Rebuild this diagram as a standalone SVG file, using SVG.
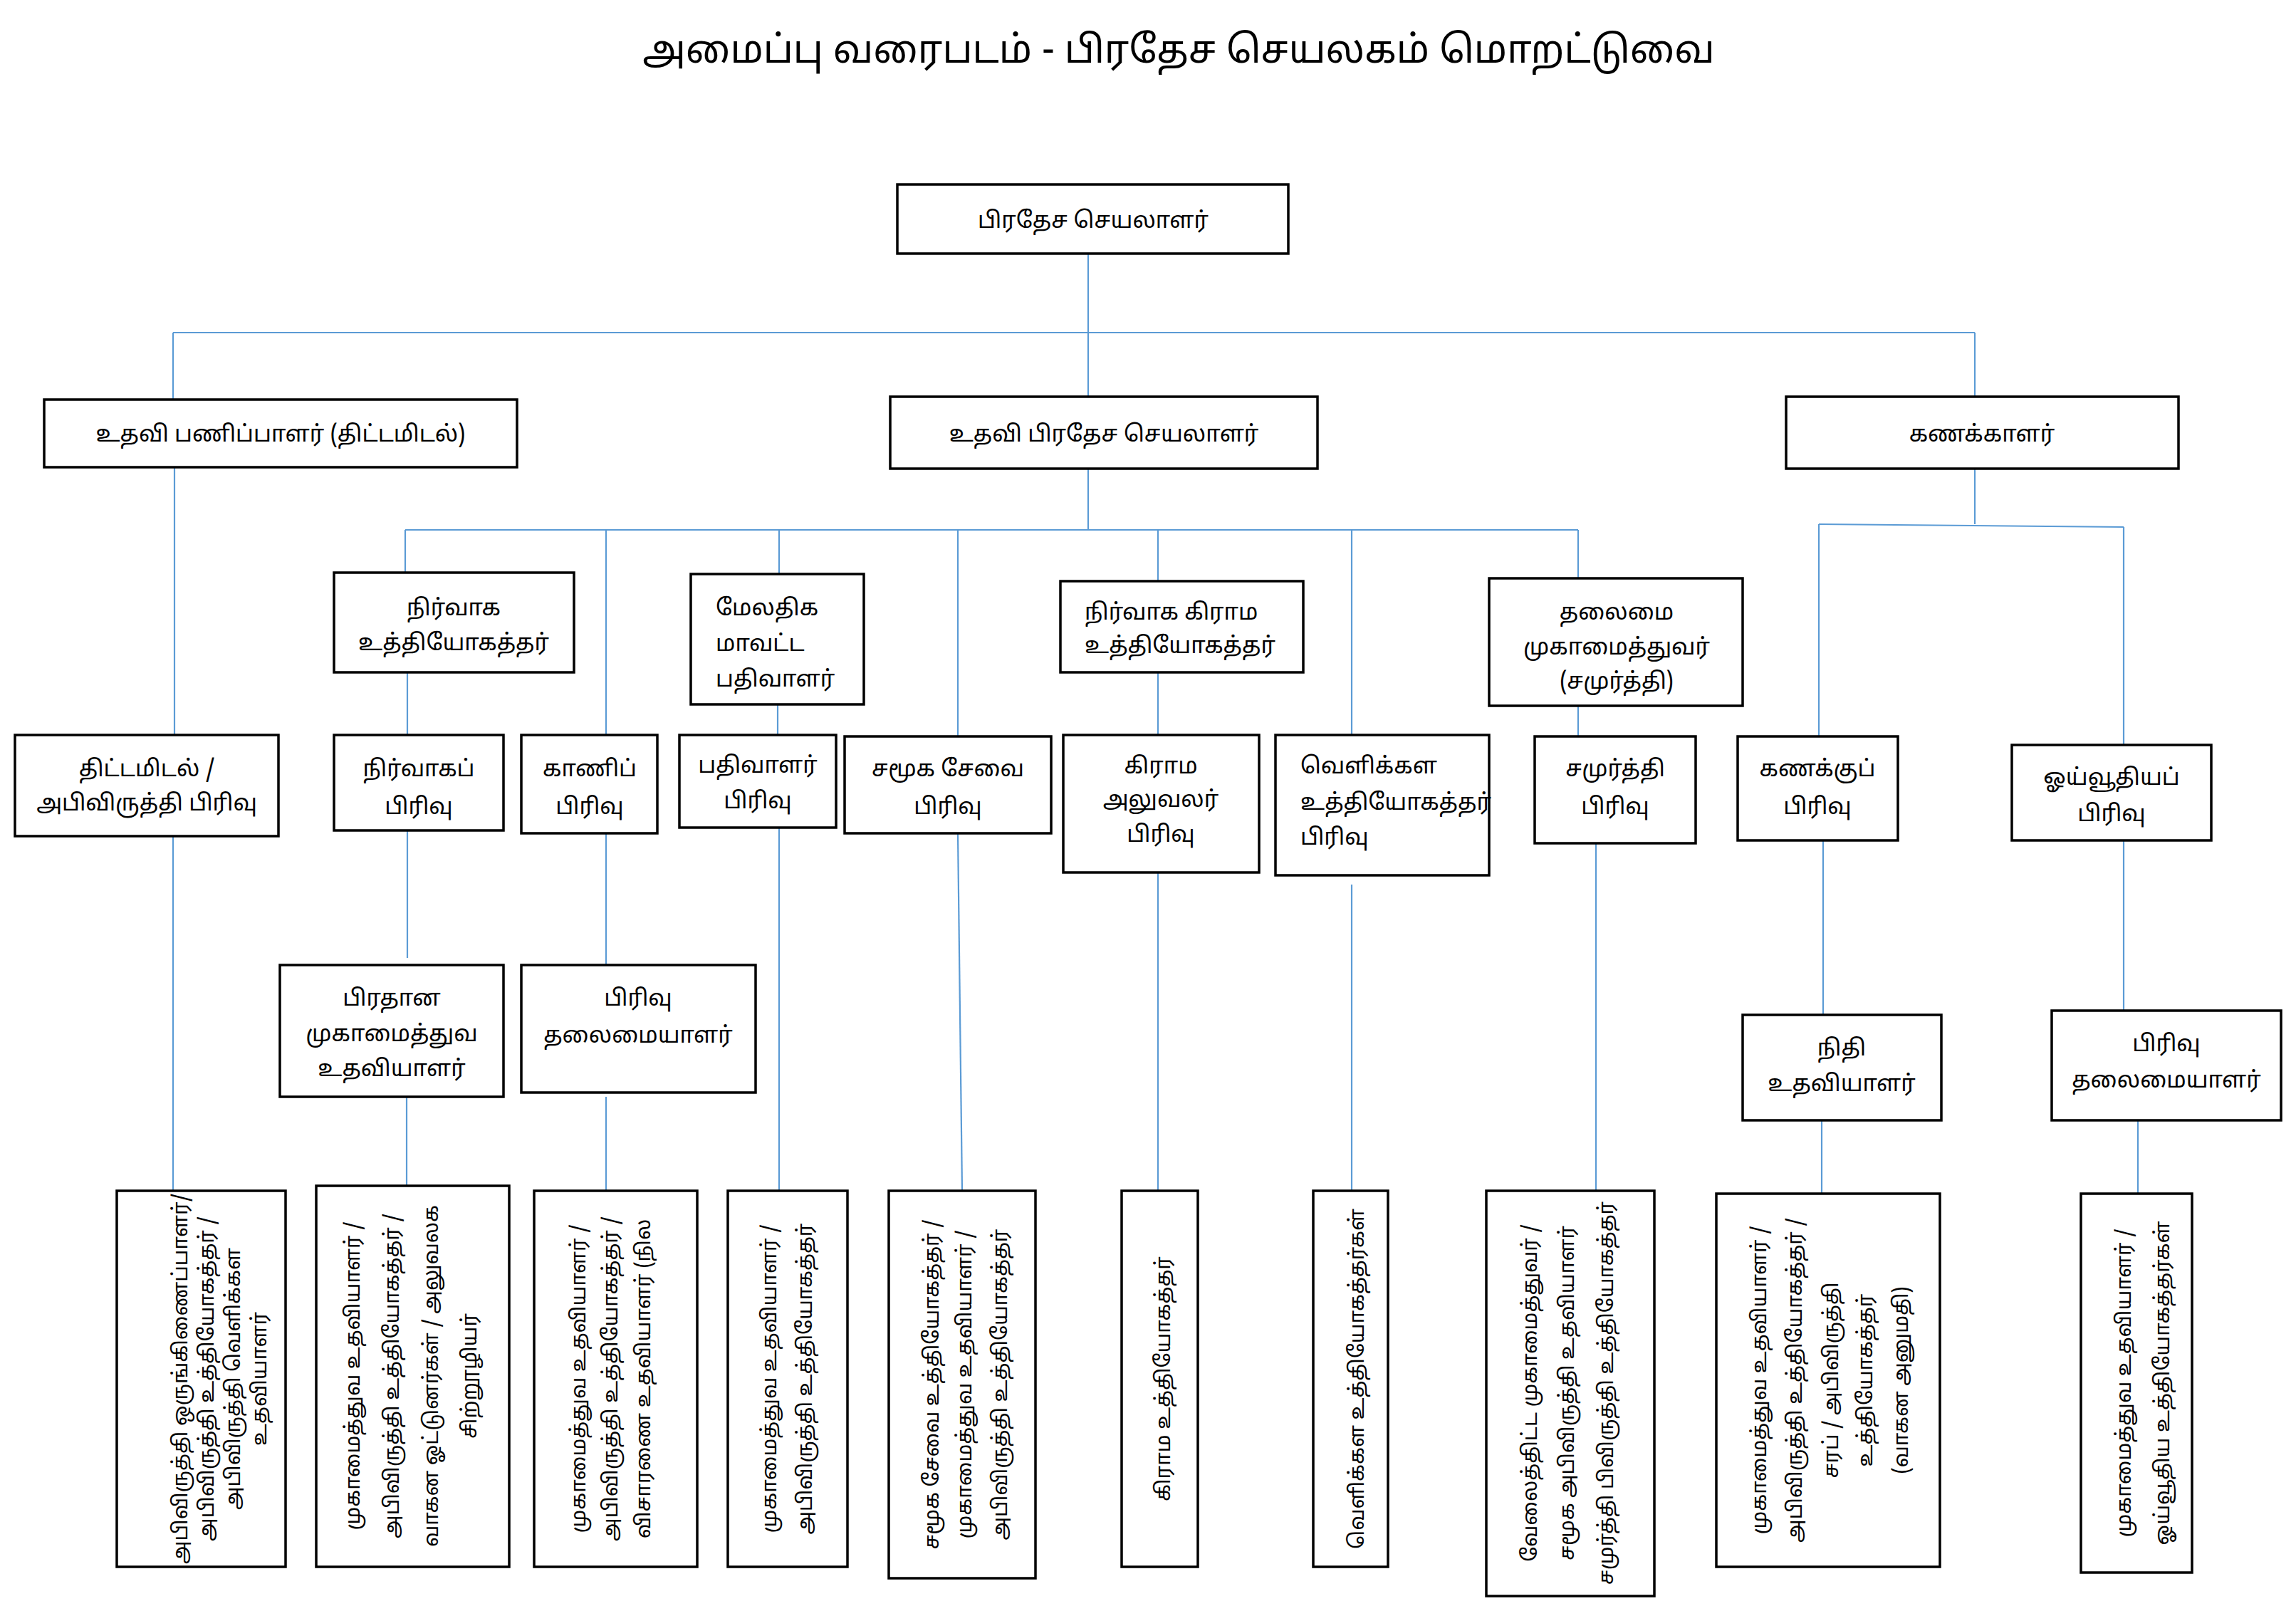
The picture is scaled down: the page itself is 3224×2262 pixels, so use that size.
<svg xmlns="http://www.w3.org/2000/svg" width="3224" height="2262" viewBox="0 0 3224 2262">
<style>
.b{fill:#fff;stroke:#000;stroke-width:3.5}
text{font-family:"Noto Sans Tamil","Latha","Noto Sans",sans-serif;fill:#000}
.t{font-size:32px;text-anchor:middle}
.s{font-size:32px;text-anchor:start}
.v{font-size:29px;text-anchor:middle}
#conn line{stroke:#5b9bd5;stroke-width:2.2}
</style>
<defs>
<clipPath id="c1"><rect x="166" y="1674" width="233" height="524"/></clipPath>
<clipPath id="c3"><rect x="752" y="1674" width="225" height="524"/></clipPath>
</defs>
<rect width="3224" height="2262" fill="#fff"/>
<text x="1655" y="88" style="font-size:54px;text-anchor:middle">அமைப்பு வரைபடம் - பிரதேச செயலகம் மொறட்டுவை</text>
<g id="conn">
<line x1="1528" y1="356" x2="1528" y2="558"/>
<line x1="243" y1="467" x2="2773" y2="467"/>
<line x1="243" y1="467" x2="243" y2="561"/>
<line x1="2773" y1="467" x2="2773" y2="557"/>
<line x1="245" y1="656" x2="245" y2="1032"/>
<line x1="243" y1="1174" x2="243" y2="1672"/>
<line x1="1528" y1="658" x2="1528" y2="744"/>
<line x1="569" y1="744" x2="2216" y2="744"/>
<line x1="569" y1="744" x2="569" y2="804"/>
<line x1="851" y1="744" x2="851" y2="1032"/>
<line x1="1094" y1="744" x2="1094" y2="806"/>
<line x1="1345" y1="744" x2="1345" y2="1034"/>
<line x1="1626" y1="744" x2="1626" y2="816"/>
<line x1="1898" y1="744" x2="1898" y2="1032"/>
<line x1="2216" y1="744" x2="2216" y2="812"/>
<line x1="572" y1="944" x2="572" y2="1032"/>
<line x1="572" y1="1166" x2="572" y2="1345"/>
<line x1="571" y1="1540" x2="571" y2="1665"/>
<line x1="851" y1="1170" x2="851" y2="1419"/>
<line x1="851" y1="1540" x2="851" y2="1672"/>
<line x1="1092" y1="989" x2="1092" y2="1032"/>
<line x1="1094" y1="1162" x2="1094" y2="1672"/>
<line x1="1345" y1="1170" x2="1351" y2="1672"/>
<line x1="1626" y1="944" x2="1626" y2="1032"/>
<line x1="1626" y1="1225" x2="1626" y2="1672"/>
<line x1="1898" y1="1242" x2="1898" y2="1672"/>
<line x1="2216" y1="991" x2="2216" y2="1034"/>
<line x1="2241" y1="1184" x2="2241" y2="1672"/>
<line x1="2773" y1="658" x2="2773" y2="736"/>
<line x1="2554" y1="736" x2="2982" y2="740"/>
<line x1="2554" y1="736" x2="2554" y2="1034"/>
<line x1="2982" y1="740" x2="2982" y2="1046"/>
<line x1="2560" y1="1180" x2="2560" y2="1425"/>
<line x1="2558" y1="1573" x2="2558" y2="1676"/>
<line x1="2982" y1="1180" x2="2982" y2="1419"/>
<line x1="3002" y1="1573" x2="3002" y2="1676"/>
</g>
<g id="n1"><rect class="b" x="1260" y="259" width="549" height="97"/><text class="t" x="1535" y="320">பிரதேச செயலாளர்</text></g>
<g id="n2"><rect class="b" x="62" y="561" width="664" height="95"/><text class="t" x="394" y="620">உதவி பணிப்பாளர் (திட்டமிடல்)</text></g>
<g id="n3"><rect class="b" x="1250" y="557" width="600" height="101"/><text class="t" x="1550" y="620">உதவி பிரதேச செயலாளர்</text></g>
<g id="n4"><rect class="b" x="2508" y="557" width="551" height="101"/><text class="t" x="2783" y="620">கணக்காளர்</text></g>
<g id="n5"><rect class="b" x="469" y="804" width="337" height="140"/><text class="t" x="637" y="864">நிர்வாக<tspan x="637" dy="49">உத்தியோகத்தர்</tspan></text></g>
<g id="n6"><rect class="b" x="970" y="806" width="243" height="183"/><text class="s" x="1005" y="864">மேலதிக<tspan x="1005" dy="50">மாவட்ட</tspan><tspan x="1005" dy="50">பதிவாளர்</tspan></text></g>
<g id="n7"><rect class="b" x="1489" y="816" width="341" height="128"/><text class="s" x="1523" y="870">நிர்வாக கிராம<tspan x="1523" dy="47">உத்தியோகத்தர்</tspan></text></g>
<g id="n8"><rect class="b" x="2091" y="812" width="356" height="179"/><text class="t" x="2270" y="870">தலைமை<tspan x="2270" dy="49">முகாமைத்துவர்</tspan><tspan x="2270" dy="48">(சமுர்த்தி)</tspan></text></g>
<g id="n9"><rect class="b" x="21" y="1032" width="370" height="142"/><text class="t" x="206" y="1090">திட்டமிடல் /<tspan x="206" dy="48">அபிவிருத்தி பிரிவு</tspan></text></g>
<g id="n10"><rect class="b" x="469" y="1032" width="238" height="134"/><text class="t" x="588" y="1090">நிர்வாகப்<tspan x="588" dy="53">பிரிவு</tspan></text></g>
<g id="n11"><rect class="b" x="732" y="1032" width="191" height="138"/><text class="t" x="828" y="1090">காணிப்<tspan x="828" dy="53">பிரிவு</tspan></text></g>
<g id="n12"><rect class="b" x="954" y="1032" width="220" height="130"/><text class="t" x="1064" y="1085">பதிவாளர்<tspan x="1064" dy="50">பிரிவு</tspan></text></g>
<g id="n13"><rect class="b" x="1186" y="1034" width="290" height="136"/><text class="t" x="1331" y="1090">சமூக சேவை<tspan x="1331" dy="53">பிரிவு</tspan></text></g>
<g id="n14"><rect class="b" x="1493" y="1032" width="275" height="193"/><text class="t" x="1630" y="1086">கிராம<tspan x="1630" dy="47">அலுவலர்</tspan><tspan x="1630" dy="49">பிரிவு</tspan></text></g>
<g id="n15"><rect class="b" x="1791" y="1032" width="300" height="197"/><text class="s" x="1826" y="1086">வெளிக்கள<tspan x="1826" dy="51">உத்தியோகத்தர்</tspan><tspan x="1826" dy="49">பிரிவு</tspan></text></g>
<g id="n16"><rect class="b" x="2155" y="1034" width="226" height="150"/><text class="t" x="2268" y="1090">சமுர்த்தி<tspan x="2268" dy="53">பிரிவு</tspan></text></g>
<g id="n17"><rect class="b" x="2440" y="1034" width="225" height="146"/><text class="t" x="2552" y="1090">கணக்குப்<tspan x="2552" dy="53">பிரிவு</tspan></text></g>
<g id="n18"><rect class="b" x="2825" y="1046" width="280" height="134"/><text class="t" x="2965" y="1102">ஓய்வூதியப்<tspan x="2965" dy="51">பிரிவு</tspan></text></g>
<g id="n19"><rect class="b" x="393" y="1355" width="314" height="185"/><text class="t" x="550" y="1412">பிரதான<tspan x="550" dy="50">முகாமைத்துவ</tspan><tspan x="550" dy="49">உதவியாளர்</tspan></text></g>
<g id="n20"><rect class="b" x="732" y="1355" width="329" height="179"/><text class="t" x="896" y="1412">பிரிவு<tspan x="896" dy="52">தலைமையாளர்</tspan></text></g>
<g id="n21"><rect class="b" x="2447" y="1425" width="279" height="148"/><text class="t" x="2586" y="1482">நிதி<tspan x="2586" dy="50">உதவியாளர்</tspan></text></g>
<g id="n22"><rect class="b" x="2881" y="1419" width="322" height="154"/><text class="t" x="3042" y="1476">பிரிவு<tspan x="3042" dy="51">தலைமையாளர்</tspan></text></g>
<g id="b1"><rect class="b" x="164" y="1672" width="237" height="528"/><g clip-path="url(#c1)"><text class="v" transform="translate(263,1936) rotate(-90)"><tspan x="0" y="0">அபிவிருத்தி ஒருங்கிணைப்பாளர்/</tspan><tspan x="0" dy="37">அபிவிருத்தி உத்தியோகத்தர் /</tspan><tspan x="0" dy="37">அபிவிருத்தி வெளிக்கள</tspan><tspan x="0" dy="37">உதவியாளர்</tspan></text></g></g>
<g id="b2"><rect class="b" x="444" y="1665" width="271" height="535"/><text class="v" transform="translate(505,1932) rotate(-90)"><tspan x="0" y="0">முகாமைத்துவ உதவியாளர் /</tspan><tspan x="0" dy="55">அபிவிருத்தி உத்தியோகத்தர் /</tspan><tspan x="0" dy="55">வாகன ஓட்டுனர்கள் /   அலுவலக</tspan><tspan x="0" dy="54">சிற்றூழியர்</tspan></text></g>
<g id="b3"><rect class="b" x="750" y="1672" width="229" height="528"/><g clip-path="url(#c3)"><text class="v" transform="translate(822,1936) rotate(-90)"><tspan x="0" y="0">முகாமைத்துவ உதவியாளர் /</tspan><tspan x="0" dy="45">அபிவிருத்தி உத்தியோகத்தர் /</tspan><tspan x="0" dy="46">விசாரணை உதவியாளர் (நில</tspan></text></g></g>
<g id="b4"><rect class="b" x="1022" y="1672" width="168" height="528"/><text class="v" transform="translate(1090,1936) rotate(-90)"><tspan x="0" y="0">முகாமைத்துவ உதவியாளர் /</tspan><tspan x="0" dy="50">அபிவிருத்தி உத்தியோகத்தர்</tspan></text></g>
<g id="b5"><rect class="b" x="1248" y="1672" width="206" height="544"/><text class="v" transform="translate(1318,1944) rotate(-90)"><tspan x="0" y="0">சமூக சேவை உத்தியோகத்தர் /</tspan><tspan x="0" dy="46">முகாமைத்துவ உதவியாளர் /</tspan><tspan x="0" dy="50">அபிவிருத்தி உத்தியோகத்தர்</tspan></text></g>
<g id="b6"><rect class="b" x="1575" y="1672" width="107" height="528"/><text class="v" transform="translate(1643,1936) rotate(-90)">கிராம உத்தியோகத்தர்</text></g>
<g id="b7"><rect class="b" x="1844" y="1672" width="105" height="528"/><text class="v" transform="translate(1915,1936) rotate(-90)">வெளிக்கள உத்தியோகத்தர்கள்</text></g>
<g id="b8"><rect class="b" x="2087" y="1672" width="236" height="569"/><text class="v" transform="translate(2158,1956) rotate(-90)"><tspan x="0" y="0">வேலைத்திட்ட முகாமைத்துவர்  /</tspan><tspan x="0" dy="52">சமூக அபிவிருத்தி உதவியாளர்</tspan><tspan x="0" dy="55">சமுர்த்தி பிவிருத்தி உத்தியோகத்தர்</tspan></text></g>
<g id="b9"><rect class="b" x="2410" y="1676" width="314" height="524"/><text class="v" transform="translate(2480,1938) rotate(-90)"><tspan x="0" y="0">முகாமைத்துவ உதவியாளர் /</tspan><tspan x="0" dy="50">அபிவிருத்தி உத்தியோகத்தர் /</tspan><tspan x="0" dy="51">சரப் / அபிவிருத்தி</tspan><tspan x="0" dy="48">உத்தியோகத்தர்</tspan><tspan x="0" dy="50">(வாகன அனுமதி)</tspan></text></g>
<g id="b10"><rect class="b" x="2922" y="1676" width="156" height="532"/><text class="v" transform="translate(2992,1942) rotate(-90)"><tspan x="0" y="0">முகாமைத்துவ உதவியாளர் /</tspan><tspan x="0" dy="54">ஓய்வூதிய உத்தியோகத்தர்கள்</tspan></text></g>
</svg>
